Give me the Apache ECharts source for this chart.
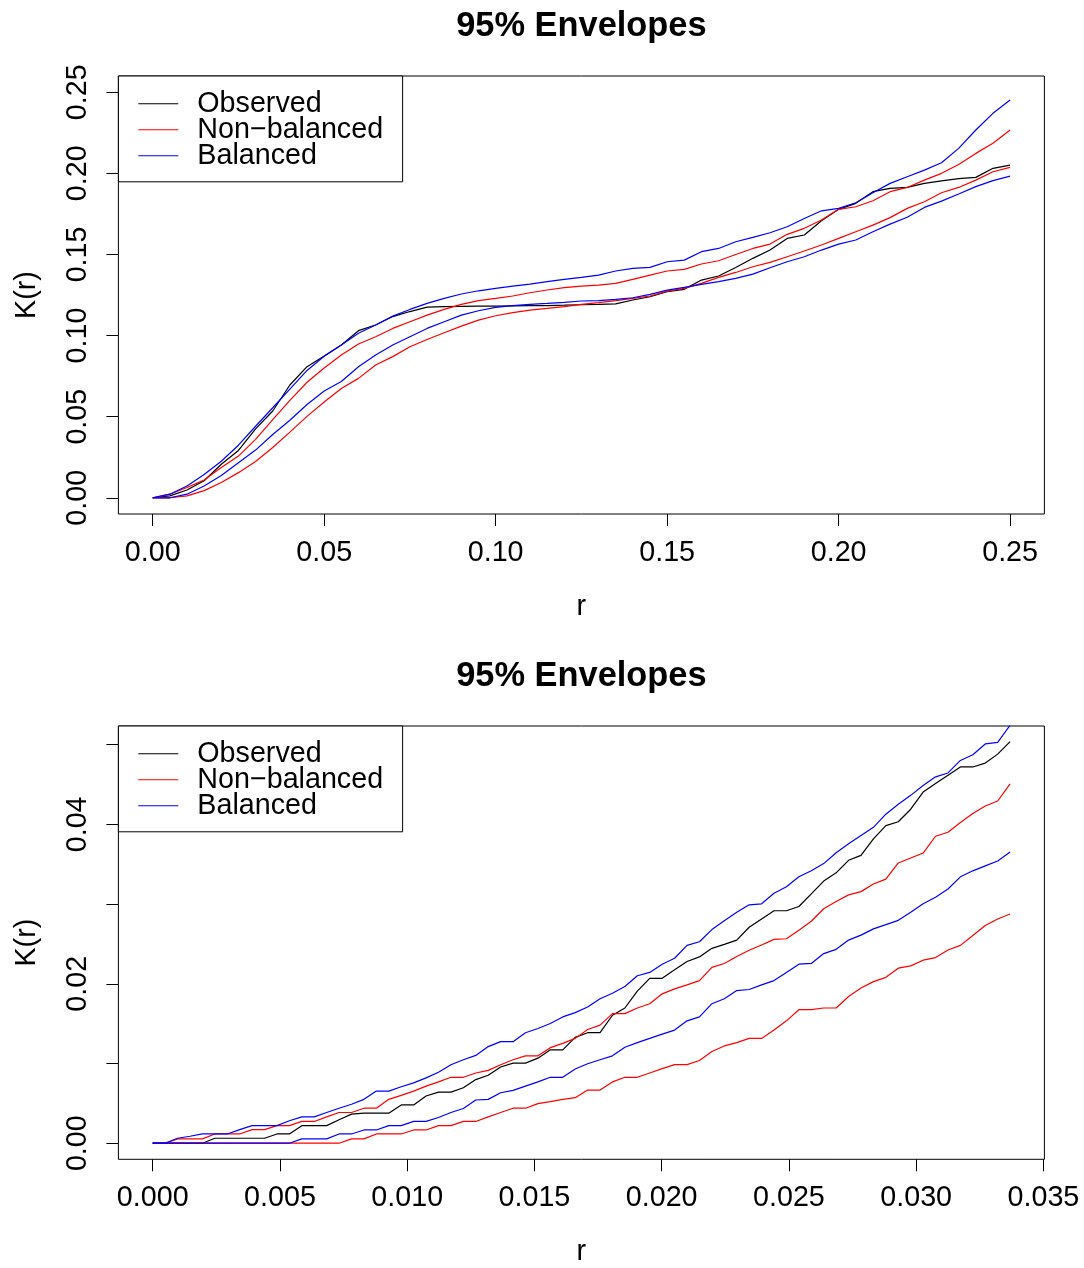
<!DOCTYPE html>
<html><head><meta charset="utf-8">
<script src="https://cdn.jsdelivr.net/npm/echarts@6/dist/echarts.min.js"></script>
<style>html,body{margin:0;padding:0;background:#fff}#c{width:1084px;height:1268px}</style>
</head><body><div id="c"></div>
<script>
// ---------- Top panel (r from 0 to 0.25) ----------
const topR = [0,0.005,0.01,0.015,0.02,0.025,0.03,0.035,0.04,0.045,
  0.05,0.055,0.06,0.065,0.07,0.075,0.08,0.085,0.09,0.095,
  0.1,0.105,0.11,0.115,0.12,0.125,0.13,0.135,0.14,0.145,
  0.15,0.155,0.16,0.165,0.17,0.175,0.18,0.185,0.19,0.195,
  0.2,0.205,0.21,0.215,0.22,0.225,0.23,0.235,0.24,0.245,0.25];
const topObserved = [0,0.0012,0.0048,0.0105,0.0207,0.0292,0.0425,0.0535,0.0695,0.0808,
  0.0874,0.0942,0.1030,0.1065,0.1117,0.1148,0.1175,0.1178,0.1180,0.1181,
  0.1182,0.1183,0.1184,0.1185,0.1187,0.1190,0.1192,0.1195,0.1219,0.1239,
  0.1270,0.1285,0.1342,0.1367,0.1420,0.1476,0.1527,0.1599,0.1620,0.1708,
  0.1778,0.1815,0.1887,0.1907,0.1913,0.1938,0.1953,0.1967,0.1975,0.2031,0.2051];
const topBalHi = [0,0.0022,0.0073,0.0143,0.0225,0.0324,0.0441,0.0555,0.0670,0.0785,
  0.0872,0.0942,0.1014,0.1065,0.1120,0.1161,0.1198,0.1229,0.1256,0.1276,
  0.1291,0.1305,0.1317,0.1332,0.1346,0.1359,0.1373,0.1398,0.1414,0.1420,
  0.1455,0.1465,0.1517,0.1537,0.1578,0.1605,0.1634,0.1671,0.1722,0.1769,
  0.1784,0.1819,0.1880,0.1938,0.1979,0.2020,0.2065,0.2154,0.2267,0.2370,0.2452];
const topNonHi = [0,0.0022,0.0063,0.0109,0.0187,0.0257,0.0360,0.0482,0.0600,0.0712,
  0.0800,0.0880,0.0948,0.0993,0.1044,0.1085,0.1126,0.1161,0.1192,0.1215,
  0.1229,0.1244,0.1264,0.1281,0.1295,0.1305,0.1311,0.1322,0.1346,0.1373,
  0.1398,0.1408,0.1441,0.1461,0.1500,0.1537,0.1564,0.1624,0.1661,0.1712,
  0.1778,0.1794,0.1831,0.1887,0.1913,0.1958,0.2000,0.2055,0.2123,0.2185,0.2267];
const topBalLo = [0,0,0.0022,0.0073,0.0137,0.0216,0.0294,0.0390,0.0478,0.0575,
  0.0658,0.0717,0.0808,0.0880,0.0942,0.0993,0.1044,0.1085,0.1126,0.1153,
  0.1174,0.1184,0.1192,0.1198,0.1205,0.1213,0.1215,0.1223,0.1233,0.1254,
  0.1280,0.1297,0.1315,0.1332,0.1352,0.1379,0.1418,0.1455,0.1486,0.1527,
  0.1564,0.1589,0.1640,0.1687,0.1729,0.1790,0.1829,0.1873,0.1918,0.1955,0.1983];
const topNonLo = [0,0,0.0012,0.0044,0.0094,0.0155,0.0224,0.0310,0.0405,0.0502,
  0.0590,0.0674,0.0736,0.0818,0.0870,0.0931,0.0976,0.1017,0.1058,0.1095,
  0.1122,0.1141,0.1157,0.1167,0.1178,0.1192,0.1203,0.1215,0.1229,0.1244,
  0.1274,0.1291,0.1322,0.1359,0.1389,0.1424,0.1451,0.1486,0.1521,0.1558,
  0.1599,0.1640,0.1681,0.1727,0.1784,0.1825,0.1880,0.1913,0.1958,0.2010,0.2037];

// ---------- Bottom panel (first 70 r values) ----------
const botR = [0,0.000488,0.000977,0.001465,0.001953,0.002441,0.00293,0.003418,0.003906,0.004395,
  0.004883,0.005371,0.005859,0.006348,0.006836,0.007324,0.007813,0.008301,0.008789,0.009277,
  0.009766,0.010254,0.010742,0.01123,0.011719,0.012207,0.012695,0.013184,0.013672,0.01416,
  0.014648,0.015137,0.015625,0.016113,0.016602,0.01709,0.017578,0.018066,0.018555,0.019043,
  0.019531,0.02002,0.020508,0.020996,0.021484,0.021973,0.022461,0.022949,0.023438,0.023926,
  0.024414,0.024902,0.025391,0.025879,0.026367,0.026855,0.027344,0.027832,0.02832,0.028809,
  0.029297,0.029785,0.030273,0.030762,0.03125,0.031738,0.032227,0.032715,0.033203,0.033691];
const botObserved = [0,0,0,0,0,0.00062,0.00062,0.00062,0.00062,0.00062,
  0.00116,0.00116,0.0022,0.0022,0.0022,0.00294,0.00365,0.00377,0.00377,0.00377,
  0.0048,0.0048,0.00592,0.00641,0.00641,0.00695,0.00798,0.00852,0.00956,0.01005,
  0.01005,0.01067,0.01171,0.01171,0.01328,0.01386,0.01386,0.01605,0.01696,0.01907,
  0.02068,0.02068,0.02176,0.02279,0.02337,0.02445,0.02494,0.02548,0.02709,0.02813,
  0.02916,0.02916,0.0297,0.03127,0.03288,0.03392,0.03549,0.03611,0.03818,0.03984,
  0.04033,0.0419,0.04405,0.04513,0.04616,0.0472,0.0472,0.04769,0.04881,0.05038];
const botBalHi = [0,0,0.00062,0.00087,0.00116,0.00116,0.00116,0.0017,0.0022,0.0022,
  0.0022,0.00282,0.00331,0.00331,0.00385,0.00439,0.00488,0.0055,0.00654,0.00654,
  0.00708,0.00757,0.00819,0.0089,0.00985,0.01047,0.01101,0.01212,0.01274,0.01274,
  0.01386,0.01439,0.01501,0.01584,0.01638,0.01708,0.01812,0.01882,0.01965,0.02101,
  0.02143,0.02246,0.0232,0.02482,0.02527,0.0268,0.02792,0.02896,0.02991,0.03003,
  0.03135,0.03218,0.03342,0.03417,0.03508,0.03644,0.03756,0.03859,0.03963,0.04128,
  0.04252,0.04364,0.04488,0.04596,0.04645,0.04802,0.04873,0.05009,0.05029,0.05244];
const botNonHi = [0,0,0.00054,0.00054,0.00054,0.00116,0.00116,0.00116,0.0017,0.0017,
  0.0022,0.0022,0.00273,0.00273,0.00331,0.00385,0.00385,0.00439,0.00439,0.0055,
  0.006,0.00654,0.00716,0.00769,0.00827,0.00827,0.00881,0.00914,0.00985,0.01047,
  0.01096,0.01096,0.01199,0.01253,0.01315,0.01427,0.01481,0.01626,0.01626,0.01696,
  0.0175,0.01874,0.01936,0.01986,0.0204,0.02205,0.02255,0.02342,0.0242,0.02486,
  0.02557,0.02565,0.02672,0.02784,0.02941,0.03032,0.03115,0.03156,0.03251,0.03313,
  0.03516,0.03578,0.0364,0.03851,0.03901,0.04024,0.04136,0.04231,0.04293,0.04508];
const botBalLo = [0,0,0,0,0,0,0,0,0,0,
  0,0,0.00054,0.00054,0.00054,0.00116,0.00116,0.00166,0.00166,0.0022,
  0.0022,0.00273,0.00273,0.00323,0.00385,0.00435,0.00542,0.0055,0.00633,0.00662,
  0.00716,0.00769,0.00827,0.00827,0.00931,0.00997,0.01047,0.01096,0.01204,0.01262,
  0.01315,0.01369,0.01419,0.01535,0.01584,0.0175,0.01812,0.01915,0.01928,0.01986,
  0.0204,0.02143,0.02246,0.02255,0.02379,0.02432,0.02548,0.0261,0.02689,0.02742,
  0.02796,0.02896,0.03003,0.03086,0.03189,0.03342,0.03417,0.03479,0.03541,0.03652];
const botNonLo = [0,0,0,0,0,0,0,0,0,0,
  0,0,0,0,0,0,0.00054,0.00054,0.00116,0.00116,
  0.00116,0.00166,0.00166,0.0022,0.0022,0.00273,0.00273,0.00331,0.00385,0.00439,
  0.00439,0.00497,0.00521,0.0055,0.00571,0.00666,0.00666,0.00769,0.00827,0.00827,
  0.00881,0.00935,0.00985,0.00985,0.01038,0.0115,0.0122,0.01262,0.01315,0.01315,
  0.01419,0.01535,0.01675,0.01675,0.01696,0.01696,0.01841,0.01948,0.02027,0.02081,
  0.02196,0.02225,0.02296,0.02329,0.02424,0.02482,0.02606,0.0273,0.02813,0.02875];

// ---------- Tick labels ----------
const topXTicks = [0,0.05,0.1,0.15,0.2,0.25];
const topYTicks = [0,0.05,0.1,0.15,0.2,0.25];
const botXTicks = [0,0.005,0.01,0.015,0.02,0.025,0.03,0.035];
const botYTicks = [0,0.01,0.02,0.03,0.04,0.05];
const botYLabels = [0,0.02,0.04];

const titleText = '95% Envelopes';
const xName = 'r';
const yName = 'K(r)';
const legendNames = ['Observed', 'Non\u2212balanced', 'Balanced'];

const FONT = '"Liberation Sans", Arial, Helvetica, sans-serif';
const FS = 28.7;
const BLACK = '#000000', RED = '#FF0000', BLUE = '#0000FF';

function zip(r, v) { return r.map((x, i) => [x, v[i]]); }

function xAxisCfg(idx, min, max, ticks, dec) {
  return {
    type: 'value', gridIndex: idx, min: min, max: max, position: 'bottom',
    axisLine: { show: false, onZero: false },
    splitLine: { show: false },
    axisTick: { show: true, length: 12, customValues: ticks, lineStyle: { color: '#000', width: 1 } },
    axisLabel: { customValues: ticks, margin: 24.6, fontSize: FS, color: '#000', fontFamily: FONT,
      formatter: v => v.toFixed(dec) },
    name: xName, nameLocation: 'middle', nameGap: 78.7,
    nameTextStyle: { fontSize: FS, color: '#000', fontFamily: FONT }
  };
}
function yAxisCfg(idx, min, max, ticks, labels, dec) {
  return {
    type: 'value', gridIndex: idx, min: min, max: max, position: 'left',
    axisLine: { show: false, onZero: false },
    splitLine: { show: false },
    axisTick: { show: true, length: 12, customValues: ticks, lineStyle: { color: '#000', width: 1 } },
    axisLabel: { customValues: labels, rotate: 90, margin: 25.6, fontSize: FS, color: '#000', fontFamily: FONT,
      formatter: v => v.toFixed(dec) },
    name: yName, nameLocation: 'middle', nameRotate: 90, nameGap: 77,
    nameTextStyle: { fontSize: FS, color: '#000', fontFamily: FONT }
  };
}
function lineSeries(name, idx, r, v, color) {
  return {
    type: 'line', name: name, xAxisIndex: idx, yAxisIndex: idx,
    data: zip(r, v), symbol: 'none', showSymbol: false,
    color: color, lineStyle: { color: color, width: 1.2 },
    clip: true, silent: true
  };
}
function legendCfg(top) {
  return {
    data: legendNames, orient: 'vertical', left: 118.4, top: top,
    padding: [13.3, 19.5, 11.5, 19.9], itemGap: -3, itemWidth: 54, itemHeight: 1.3,
    icon: 'path://M0,0H40V1H0Z M54,0V1',
    borderColor: '#000', borderWidth: 1, backgroundColor: '#fff',
    selectedMode: false,
    itemStyle: { borderWidth: 0 },
    textStyle: { fontSize: FS, color: '#000', fontFamily: FONT }
  };
}
function titleCfg(top) {
  return {
    text: titleText, left: 581.4, top: top, textAlign: 'center', padding: 0,
    textStyle: { fontSize: 34.4, fontWeight: 'bold', color: '#000', fontFamily: FONT }
  };
}

const gridBase = { left: 118.4, width: 926, height: 438, show: true, borderColor: '#000', borderWidth: 1, backgroundColor: 'transparent' };

const option = {
  animation: false,
  backgroundColor: '#fff',
  title: [titleCfg(9.5), titleCfg(660)],
  legend: [legendCfg(76), legendCfg(726)],
  grid: [Object.assign({ top: 76 }, gridBase), Object.assign({ top: 726 }, gridBase)],
  xAxis: [xAxisCfg(0, -0.01, 0.26, topXTicks, 2), xAxisCfg(1, -0.0013477, 0.0350386, botXTicks, 3)],
  yAxis: [yAxisCfg(0, -0.01, 0.26, topYTicks, topYTicks, 2), yAxisCfg(1, -0.00202, 0.05234, botYTicks, botYLabels, 2)],
  series: [
    lineSeries(legendNames[0], 0, topR, topObserved, BLACK),
    lineSeries(legendNames[1], 0, topR, topNonHi, RED),
    lineSeries(legendNames[1], 0, topR, topNonLo, RED),
    lineSeries(legendNames[2], 0, topR, topBalHi, BLUE),
    lineSeries(legendNames[2], 0, topR, topBalLo, BLUE),
    lineSeries(legendNames[0], 1, botR, botObserved, BLACK),
    lineSeries(legendNames[1], 1, botR, botNonHi, RED),
    lineSeries(legendNames[1], 1, botR, botNonLo, RED),
    lineSeries(legendNames[2], 1, botR, botBalHi, BLUE),
    lineSeries(legendNames[2], 1, botR, botBalLo, BLUE)
  ]
};

const chart = echarts.init(document.getElementById('c'), null, { renderer: 'canvas', width: 1084, height: 1268 });
chart.setOption(option);
</script>
</body></html>
